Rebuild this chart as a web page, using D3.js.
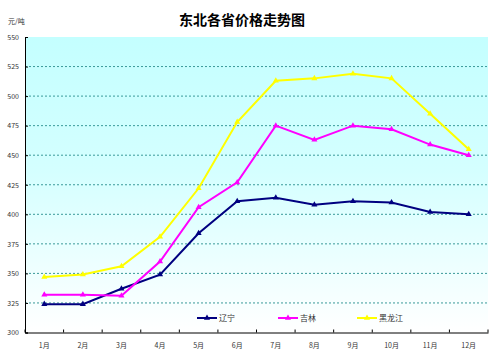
<!DOCTYPE html>
<html><head><meta charset="utf-8">
<script src="https://cdn.jsdelivr.net/npm/d3@7/dist/d3.min.js"></script>
<style>body{margin:0;background:#fff}svg{display:block}</style>
</head><body>
<svg id="c" width="500" height="356"></svg>
<script>
const months = ["1月","2月","3月","4月","5月","6月","7月","8月","9月","10月","11月","12月"];
const liaoning = [324,324,337,349,384,411,414,408,411,410,402,400];
const jilin = [332,332,331,360,406,427,475,463,475,472,459,450];
const heilongjiang = [347,349,356,381,422,478,513,515,519,515,485,455];
const yTicks = [300,325,350,375,400,425,450,475,500,525,550];
const seriesNames = ["辽宁","吉林","黑龙江"];
const seriesColors = ["#000080","#FF00FF","#FFFF00"];
const title = "东北各省价格走势图";
const unit = "元/吨";

const series = [liaoning, jilin, heilongjiang];
const svg = d3.select("#c");
const L = 25, R = 488, T = 37, B = 332.5;
const font = "'Noto Sans CJK SC','Noto Sans',sans-serif";

const x = d3.scaleBand().domain(months).range([L, R]);
const y = d3.scaleLinear().domain([300, 550]).range([B, T]);

const defs = svg.append("defs");
const g = defs.append("linearGradient").attr("id","bg").attr("x1",0).attr("y1",0).attr("x2",0).attr("y2",1);
g.append("stop").attr("offset","0%").attr("stop-color","#C4FFFF");
g.append("stop").attr("offset","45%").attr("stop-color","#D4FFFF");
g.append("stop").attr("offset","100%").attr("stop-color","#FFFFFF");

svg.append("rect").attr("x", L).attr("y", T).attr("width", R - L).attr("height", B - T).attr("fill", "url(#bg)");

// grid
svg.append("g").selectAll("line").data(yTicks.filter(v => v > 300 && v < 550)).join("line")
  .attr("x1", L).attr("x2", R).attr("y1", d => y(d)).attr("y2", d => y(d))
  .attr("stroke", "#3a9a9a").attr("stroke-width", 1).attr("stroke-dasharray", "2,2");

// axes
const yAxis = svg.append("g").attr("transform", `translate(${L},0)`)
  .call(d3.axisLeft(y).tickValues(yTicks).tickSize(-3).tickPadding(6));
yAxis.select(".domain").attr("stroke", "#000");
yAxis.selectAll("text").attr("font-family", font).attr("font-size", 7).attr("fill", "#333");

const xAxis = svg.append("g").attr("transform", `translate(0,${B})`)
  .call(d3.axisBottom(x).tickSize(0).tickPadding(11));
xAxis.select(".domain").attr("stroke", "#000");
xAxis.selectAll("text").attr("font-family", font).attr("font-size", 7).attr("fill", "#333");
// category boundary ticks (pointing up)
const bounds = months.map(m => x(m)).concat([R]);
svg.append("g").selectAll("line").data(bounds).join("line")
  .attr("x1", d => d).attr("x2", d => d).attr("y1", B).attr("y2", B - 3)
  .attr("stroke", "#000");

// lines
const line = d3.line().x((d, i) => x(months[i]) + x.bandwidth() / 2).y(d => y(d));
const tri = d3.symbol().type(d3.symbolTriangle).size(16);
series.forEach((s, k) => {
  svg.append("path").datum(s).attr("d", line).attr("fill", "none")
    .attr("stroke", seriesColors[k]).attr("stroke-width", 2);
  svg.append("g").selectAll("path").data(s).join("path")
    .attr("d", tri)
    .attr("transform", (d, i) => `translate(${x(months[i]) + x.bandwidth() / 2},${y(d)})`)
    .attr("fill", seriesColors[k]);
});

// legend
const legX = [197, 278, 357], legY = 318;
seriesNames.forEach((n, k) => {
  const lg = svg.append("g");
  lg.append("line").attr("x1", legX[k]).attr("x2", legX[k] + 20).attr("y1", legY).attr("y2", legY)
    .attr("stroke", seriesColors[k]).attr("stroke-width", 2);
  lg.append("path").attr("d", tri).attr("transform", `translate(${legX[k] + 10},${legY})`).attr("fill", seriesColors[k]);
  lg.append("text").attr("x", legX[k] + 22).attr("y", legY + 3).text(n)
    .attr("font-family", font).attr("font-size", 8).attr("fill", "#333");
});

// title
svg.append("text").attr("x", 242).attr("y", 25).attr("text-anchor", "middle")
  .attr("font-family", font).attr("font-weight", "bold").attr("font-size", 14).attr("fill", "#000").text(title);
svg.append("text").attr("x", 8).attr("y", 24).attr("font-family", font).attr("font-size", 7).attr("fill", "#333").text(unit);
</script>
</body></html>
